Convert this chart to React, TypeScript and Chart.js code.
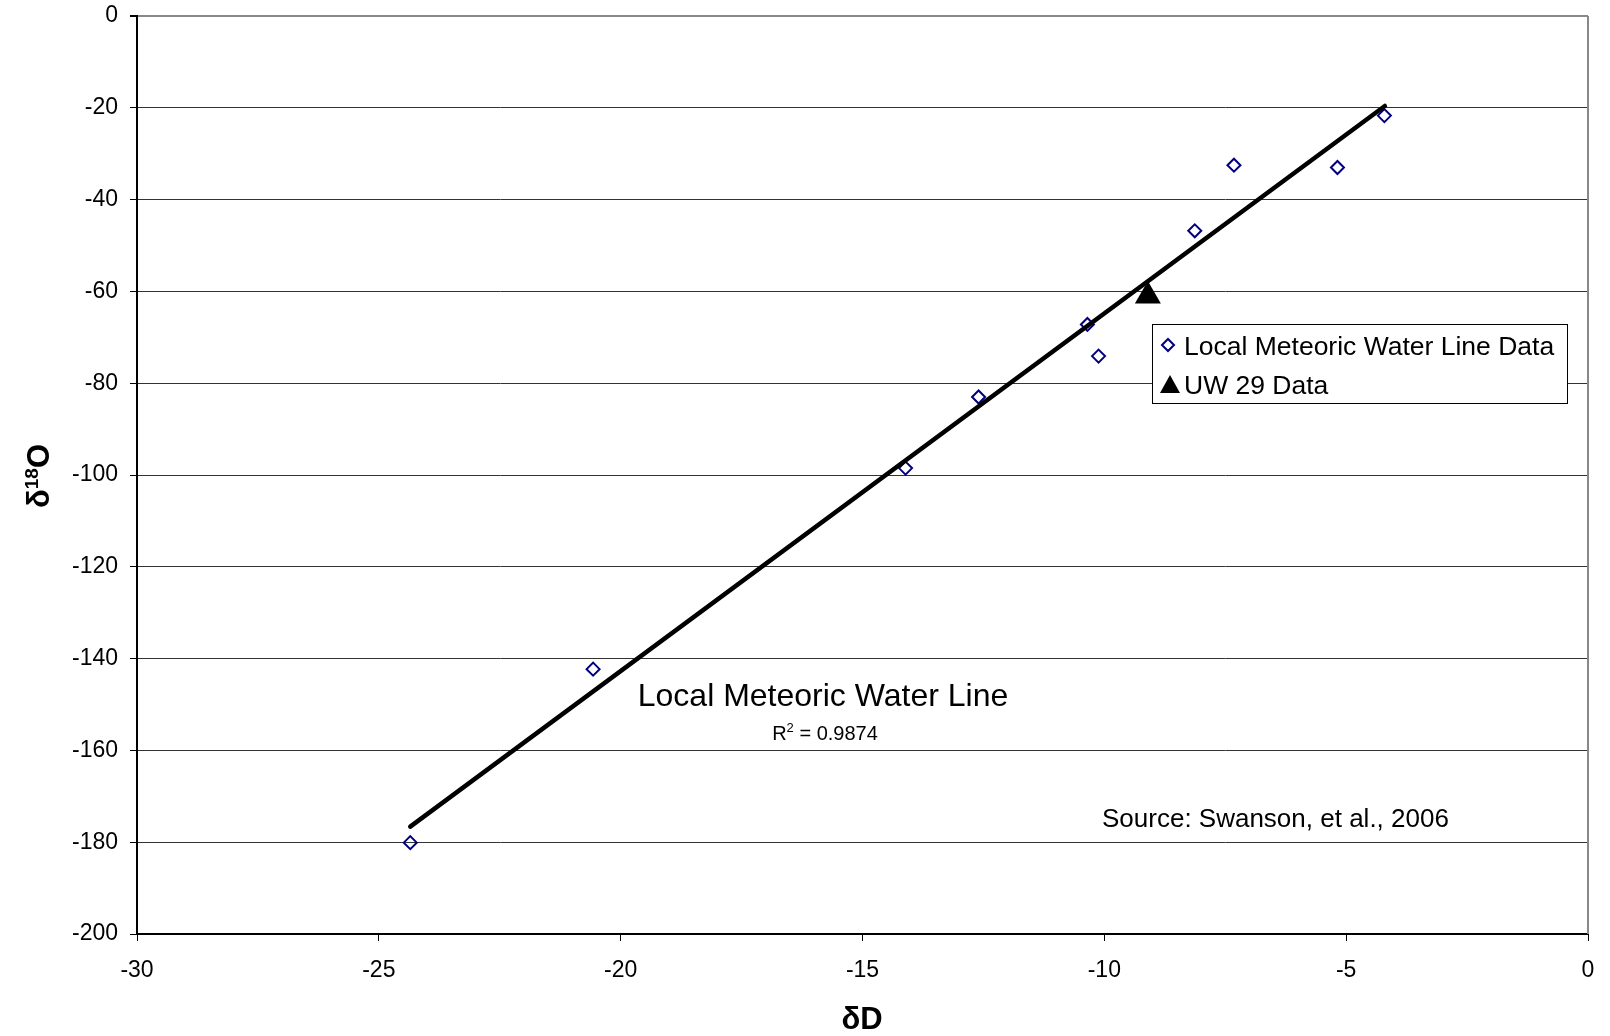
import React, { useEffect, useRef } from "react";
import { Chart, registerables } from "chart.js";

Chart.register(...registerables);

const lmwlX = [-24.35, -20.57, -14.11, -12.6, -10.35, -10.12, -8.13, -7.32, -5.18, -4.21];
const lmwlY = [-180.1, -142.3, -98.5, -83.0, -67.2, -74.1, -46.8, -32.5, -33.0, -21.7];
const uw29X = [-9.1];
const uw29Y = [-61];
const trendX = [-24.35, -4.2];
const trendY = [-176.6, -19.6];
const legendLabels = ["Local Meteoric Water Line Data", "UW 29 Data"];
const lineLabel = "Local Meteoric Water Line";
const r2Value = "0.9874";
const sourceText = "Source: Swanson, et al., 2006";
const xTitle = "δD";

const FONT = "'Liberation Sans', Arial, sans-serif";

const overlayPlugin = {
  id: "overlay",
  afterDraw(chart: any) {
    const ctx = chart.ctx as CanvasRenderingContext2D;
    const area = chart.chartArea;
    ctx.save();
    // right border
    ctx.strokeStyle = "#888";
    ctx.lineWidth = 2;
    ctx.beginPath();
    ctx.moveTo(area.right, area.top);
    ctx.lineTo(area.right, area.bottom);
    ctx.stroke();

    // legend box
    const lx = 1152, ly = 324, lw = 415, lh = 79;
    ctx.fillStyle = "#fff";
    ctx.fillRect(lx, ly, lw, lh);
    ctx.strokeStyle = "#000";
    ctx.lineWidth = 1;
    ctx.strokeRect(lx + 0.5, ly + 0.5, lw, lh);

    // diamond marker
    const dx = 1168, dy = 345, dr = 6;
    ctx.strokeStyle = "#000080";
    ctx.lineWidth = 2;
    ctx.beginPath();
    ctx.moveTo(dx - dr, dy);
    ctx.lineTo(dx, dy - dr);
    ctx.lineTo(dx + dr, dy);
    ctx.lineTo(dx, dy + dr);
    ctx.closePath();
    ctx.stroke();
    // triangle marker
    const tx = 1170, ty = 385;
    ctx.fillStyle = "#000";
    ctx.beginPath();
    ctx.moveTo(tx, ty - 10);
    ctx.lineTo(tx + 10, ty + 8);
    ctx.lineTo(tx - 10, ty + 8);
    ctx.closePath();
    ctx.fill();

    ctx.fillStyle = "#000";
    ctx.font = `26.5px ${FONT}`;
    ctx.textAlign = "left";
    ctx.textBaseline = "alphabetic";
    ctx.fillText(legendLabels[0], 1184, 355);
    ctx.fillText(legendLabels[1], 1184, 394);

    // line label
    ctx.textAlign = "center";
    ctx.font = `32px ${FONT}`;
    ctx.fillText(lineLabel, 823, 706);

    // R^2
    ctx.font = `20px ${FONT}`;
    const rest = " = " + r2Value;
    const wR = ctx.measureText("R").width;
    ctx.font = `13px ${FONT}`;
    const w2 = ctx.measureText("2").width;
    ctx.font = `20px ${FONT}`;
    const wRest = ctx.measureText(rest).width;
    const total = wR + w2 + wRest;
    let sx = 825 - total / 2;
    ctx.textAlign = "left";
    ctx.fillText("R", sx, 740);
    sx += wR;
    ctx.font = `13px ${FONT}`;
    ctx.fillText("2", sx, 732);
    sx += w2;
    ctx.font = `20px ${FONT}`;
    ctx.fillText(rest, sx, 740);

    // source
    ctx.font = `26px ${FONT}`;
    ctx.fillText(sourceText, 1102, 827);

    // x title
    ctx.textAlign = "center";
    ctx.font = `bold 31px ${FONT}`;
    ctx.fillText(xTitle, 862, 1029);

    // y title rotated
    ctx.translate(49, 476);
    ctx.rotate(-Math.PI / 2);
    ctx.font = `bold 31px ${FONT}`;
    const wd = ctx.measureText("δ").width;
    const wo = ctx.measureText("O").width;
    ctx.font = `bold 19px ${FONT}`;
    const w18 = ctx.measureText("18").width;
    let yx = -(wd + wo + w18) / 2;
    ctx.textAlign = "left";
    ctx.font = `bold 31px ${FONT}`;
    ctx.fillText("δ", yx, 0);
    yx += wd;
    ctx.font = `bold 19px ${FONT}`;
    ctx.fillText("18", yx, -11);
    yx += w18;
    ctx.font = `bold 31px ${FONT}`;
    ctx.fillText("O", yx, 0);
    ctx.restore();
  },
};

export default function App() {
  const ref = useRef<HTMLCanvasElement | null>(null);
  useEffect(() => {
    if (!ref.current) return;
    const chart = new Chart(ref.current, {
      type: "scatter",
      data: {
        datasets: [
          {
            label: "Trendline",
            data: trendX.map((x, i) => ({ x, y: trendY[i] })),
            showLine: true,
            borderColor: "#000",
            borderWidth: 4.5,
            borderCapStyle: "round",
            pointRadius: 0,
            pointHoverRadius: 0,
          },
          {
            label: legendLabels[0],
            data: lmwlX.map((x, i) => ({ x, y: lmwlY[i] })),
            pointStyle: "rectRot",
            pointRadius: 6.5,
            pointBorderWidth: 2,
            borderColor: "#000080",
            backgroundColor: "rgba(255,255,255,0)",
          },
          {
            label: legendLabels[1],
            data: uw29X.map((x, i) => ({ x, y: uw29Y[i] })),
            pointStyle: "triangle",
            pointRadius: 15,
            pointBorderWidth: 0,
            borderColor: "#000",
            backgroundColor: "#000",
          },
        ],
      } as any,
      options: {
        animation: false,
        responsive: false,
        events: [],
        layout: { padding: { top: 16, right: 22, left: 0, bottom: 0 } },
        plugins: { legend: { display: false }, tooltip: { enabled: false } },
        scales: {
          x: {
            type: "linear",
            min: -30,
            max: 0,
            ticks: {
              stepSize: 5,
              color: "#000",
              font: { family: FONT, size: 23 },
              padding: 16,
              maxRotation: 0,
            },
            grid: {
              drawOnChartArea: false,
              drawTicks: true,
              tickLength: 7,
              tickColor: "#000",
              color: "#000",
            },
            border: { color: "#000", width: 2 },
            afterFit: (s: any) => {
              s.height = 102;
              s.paddingLeft = 0;
              s.paddingRight = 0;
            },
          },
          y: {
            type: "linear",
            min: -200,
            max: 0,
            ticks: {
              stepSize: 20,
              color: "#000",
              font: { family: FONT, size: 23 },
              padding: 12,
            },
            grid: {
              color: (c: any) => (c.tick && c.tick.value === 0 ? "#888" : "#333"),
              lineWidth: (c: any) => (c.tick && c.tick.value === 0 ? 2 : 1),
              tickLength: 7,
              tickColor: "#000",
            },
            border: { color: "#000", width: 2 },
            afterFit: (s: any) => {
              s.width = 137;
              s.paddingTop = 0;
              s.paddingBottom = 0;
            },
          },
        },
      } as any,
      plugins: [overlayPlugin],
    });
    return () => chart.destroy();
  }, []);
  return (
    <div style={{ position: "fixed", left: 0, top: 0, width: 1610, height: 1036, background: "#fff" }}>
      <canvas ref={ref} width={1610} height={1036} style={{ display: "block" }} />
    </div>
  );
}
